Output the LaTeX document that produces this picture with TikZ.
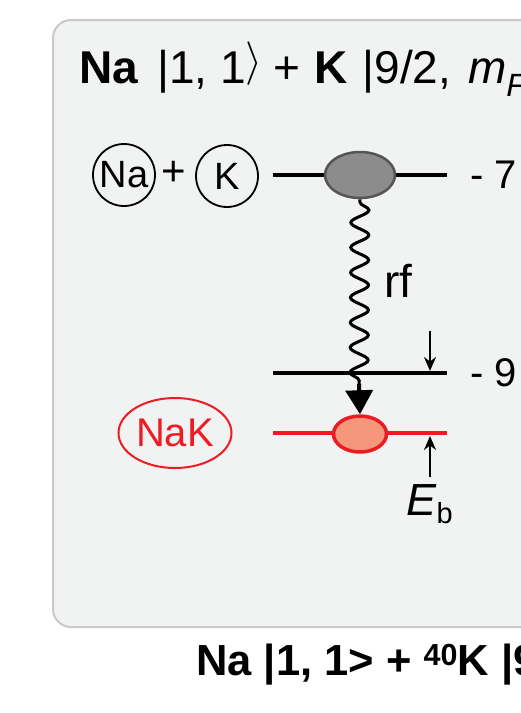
\documentclass[tikz,border=0pt]{standalone}
\usepackage{fontspec}
\setmainfont{Liberation Sans}
\usetikzlibrary{shapes.geometric,arrows.meta,decorations.pathmorphing}
\definecolor{boxfill}{HTML}{F1F2F2}
\definecolor{boxline}{HTML}{C8C9C9}
\definecolor{nakred}{HTML}{ED1C24}
\definecolor{salmon}{HTML}{F4977A}
\definecolor{dotgray}{HTML}{8C8C8C}
\definecolor{dotedge}{HTML}{555555}
\newcommand{\ketr}{\raisebox{8.5pt}{\scalebox{1.75}{$\rangle$}}}
\tikzset{
  atom/.style={circle, draw, line width=1.8pt, minimum size=62pt, inner sep=0pt, font=\fontsize{38}{40}\selectfont},
  level/.style={line width=4pt},
  smallarrow/.style={line width=2pt, -{Stealth[length=14pt,width=12pt]}},
  lab/.style={anchor=west, inner sep=0pt, font=\fontsize{40}{44}\selectfont},
}
\begin{document}
\begin{tikzpicture}[x=1pt,y=-1pt]
\useasboundingbox (0,0) rectangle (521,713);
\clip (0,0) rectangle (521,713);
\fill[white] (0,0) rectangle (521,713);
\draw[fill=boxfill, draw=boxline, line width=2pt, rounded corners=18pt] (53,20) rectangle (620,627);

\node[anchor=base west, inner sep=0pt, font=\fontsize{46}{54}\selectfont] (title) at (79,83)
  {\textbf{Na}\hspace{19pt}|1, 1\ketr\hspace{11pt}+\hspace{13.5pt}\textbf{K}\hspace{15pt}|9/2,\hspace{17pt}\textit{m}\textsubscript{\textit{F}}};

% atoms
\node[atom] (na) at (124,175) {Na};
\node[inner sep=0pt, font=\fontsize{42}{44}\selectfont] (plus) at (174,173) {+};
\node[atom] (k) at (227,176) {K};

% upper level
\coordinate (u1) at (273,175);
\coordinate (u2) at (447,175);
\draw[level] (u1) -- (u2);
\node[ellipse, fill=dotgray, draw=dotedge, line width=2.5pt, minimum width=70pt, minimum height=46pt, inner sep=0pt] (g) at (360,175) {};
\node[lab] (m7) at (470,175) {- 7};

% lower black level
\coordinate (b1) at (273,373);
\coordinate (b2) at (447,373);
\draw[level] (b1) -- (b2);
\node[lab] (m9) at (470,373) {- 9};

% red level
\coordinate (r1) at (273,433);
\coordinate (r2) at (447,433);
\draw[level, nakred] (r1) -- (r2);
\node[ellipse, fill=salmon, draw=nakred, line width=3.5pt, minimum width=53pt, minimum height=36pt, inner sep=0pt] (r) at (360,434) {};

\node[ellipse, draw=nakred, text=nakred, line width=2pt, minimum width=113pt, minimum height=70pt, inner sep=0pt, font=\fontsize{40}{44}\selectfont] (nak) at (175,433) {NaK};

% rf transition
\coordinate (w) at (359,384);
\draw[line width=3pt, decorate, decoration={snake, amplitude=9pt, segment length=25pt, pre length=3pt, post length=2pt}] (g.south) -- (w);
\draw[line width=4pt, -{Triangle[length=24pt,width=27pt]}] (w) -- (r.north);
\node[anchor=west, inner sep=0pt, font=\fontsize{46}{50}\selectfont] (rf) at (384,281) {rf};

% binding energy arrows
\coordinate (a1) at (430,331);
\coordinate (a2) at (430,371);
\draw[smallarrow] (a1) -- (a2);
\coordinate (a3) at (430,477);
\coordinate (a4) at (430,436);
\draw[smallarrow] (a3) -- (a4);
\node[anchor=base west, inner sep=0pt, font=\fontsize{45}{50}\selectfont] (eb) at (406,515)
  {\textit{E}\raisebox{-8pt}{\fontsize{29}{32}\selectfont b}};

% bottom caption
\node[anchor=base west, inner sep=0pt, font=\bfseries\fontsize{43.5}{54}\selectfont] (cap) at (196,675)
  {Na |1, 1> + \textsuperscript{40}K |9};
\end{tikzpicture}
\end{document}
